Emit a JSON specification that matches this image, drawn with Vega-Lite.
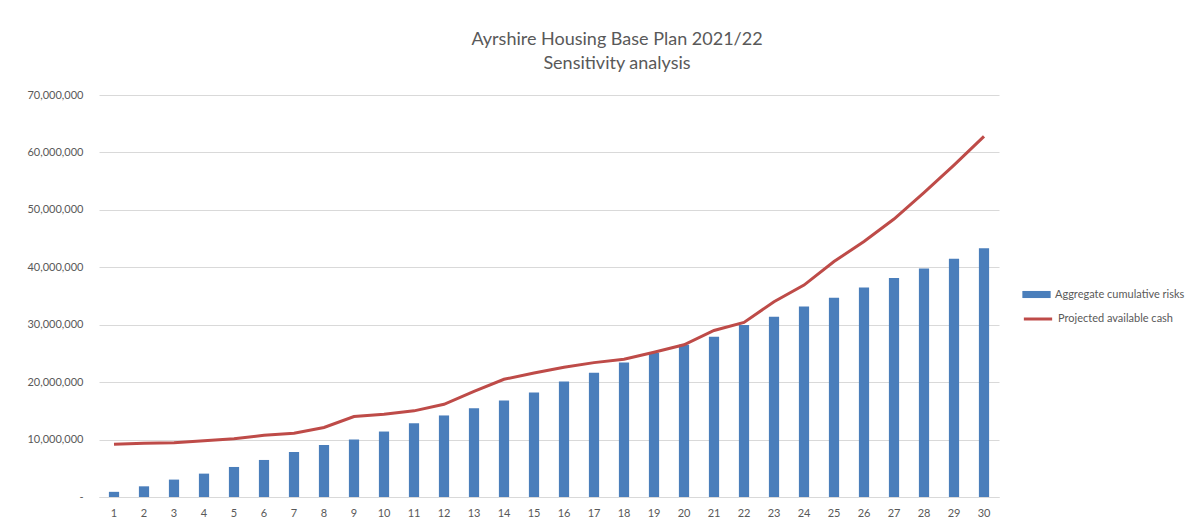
{
  "$schema": "https://vega.github.io/schema/vega-lite/v6.json",
  "width": 900,
  "height": 402,
  "autosize": {"type": "none"},
  "padding": {"left": 99, "top": 95, "right": 203, "bottom": 27},
  "background": "white",
  "title": {
    "text": ["Ayrshire Housing Base Plan 2021/22", "Sensitivity analysis"],
    "anchor": "middle",
    "dx": 68,
    "offset": 16,
    "fontSize": 18,
    "lineHeight": 24,
    "font": "Lato",
    "fontWeight": "normal",
    "color": "#595959"
  },
  "config": {
    "view": {"stroke": null},
    "font": "Lato"
  },
  "data": {
    "values": [
      {"year": 1, "risks": 900000, "cash": 9180000},
      {"year": 2, "risks": 1860000, "cash": 9350000},
      {"year": 3, "risks": 3030000, "cash": 9460000},
      {"year": 4, "risks": 4070000, "cash": 9800000},
      {"year": 5, "risks": 5230000, "cash": 10160000},
      {"year": 6, "risks": 6450000, "cash": 10750000},
      {"year": 7, "risks": 7840000, "cash": 11100000},
      {"year": 8, "risks": 9060000, "cash": 12100000},
      {"year": 9, "risks": 10000000, "cash": 14000000},
      {"year": 10, "risks": 11400000, "cash": 14400000},
      {"year": 11, "risks": 12840000, "cash": 15000000},
      {"year": 12, "risks": 14200000, "cash": 16150000},
      {"year": 13, "risks": 15450000, "cash": 18400000},
      {"year": 14, "risks": 16800000, "cash": 20500000},
      {"year": 15, "risks": 18200000, "cash": 21600000},
      {"year": 16, "risks": 20100000, "cash": 22600000},
      {"year": 17, "risks": 21650000, "cash": 23400000},
      {"year": 18, "risks": 23400000, "cash": 24000000},
      {"year": 19, "risks": 25100000, "cash": 25200000},
      {"year": 20, "risks": 26500000, "cash": 26500000},
      {"year": 21, "risks": 27900000, "cash": 29000000},
      {"year": 22, "risks": 29950000, "cash": 30400000},
      {"year": 23, "risks": 31400000, "cash": 34000000},
      {"year": 24, "risks": 33150000, "cash": 36900000},
      {"year": 25, "risks": 34700000, "cash": 41000000},
      {"year": 26, "risks": 36500000, "cash": 44500000},
      {"year": 27, "risks": 38150000, "cash": 48400000},
      {"year": 28, "risks": 39800000, "cash": 53000000},
      {"year": 29, "risks": 41500000, "cash": 57800000},
      {"year": 30, "risks": 43300000, "cash": 62800000}
    ]
  },
  "encoding": {
    "x": {
      "field": "year",
      "type": "ordinal",
      "scale": {"paddingInner": 0.66, "paddingOuter": 0.33},
      "axis": {
        "title": null,
        "labelAngle": 0,
        "ticks": false,
        "domain": true,
        "domainColor": "#d9d9d9",
        "labelColor": "#595959",
        "labelFontSize": 11,
        "labelPadding": 10,
        "labelFont": "Lato",
        "labelOverlap": false
      }
    }
  },
  "layer": [
    {
      "mark": {"type": "bar", "color": "#4a7ebb"},
      "encoding": {
        "y": {
          "field": "risks",
          "type": "quantitative",
          "scale": {"domain": [0, 70000000], "nice": false},
          "axis": {
            "title": null,
            "values": [0, 10000000, 20000000, 30000000, 40000000, 50000000, 60000000, 70000000],
            "labelExpr": "datum.value === 0 ? '-' : format(datum.value, ',')",
            "labelOverlap": false,
            "ticks": false,
            "domain": false,
            "gridColor": "#d9d9d9",
            "gridWidth": 1,
            "labelColor": "#595959",
            "labelFontSize": 11,
            "labelPadding": 16,
            "labelFont": "Lato"
          }
        },
        "color": {
          "datum": "Aggregate cumulative risks",
          "type": "nominal",
          "scale": {"domain": ["Aggregate cumulative risks"], "range": ["#4a7ebb"]},
          "legend": {
            "title": null,
            "orient": "none",
            "legendX": 923,
            "legendY": 185,
            "symbolType": "M-1,-0.25H1V0.25H-1Z",
            "symbolSize": 800,
            "symbolStrokeWidth": 0,
            "labelColor": "#595959",
            "labelFontSize": 11,
            "labelFont": "Lato",
            "labelOffset": 4
          }
        }
      }
    },
    {
      "mark": {"type": "line", "strokeWidth": 3},
      "encoding": {
        "y": {"field": "cash", "type": "quantitative"},
        "stroke": {
          "datum": "Projected available cash",
          "type": "nominal",
          "scale": {"domain": ["Projected available cash"], "range": ["#be4b48"]},
          "legend": {
            "title": null,
            "orient": "none",
            "legendX": 923,
            "legendY": 208,
            "symbolType": "stroke",
            "symbolSize": 800,
            "symbolStrokeWidth": 3,
            "labelColor": "#595959",
            "labelFontSize": 11,
            "labelFont": "Lato",
            "labelOffset": 4
          }
        }
      }
    }
  ],
  "resolve": {"scale": {"color": "independent", "stroke": "independent"}}
}
